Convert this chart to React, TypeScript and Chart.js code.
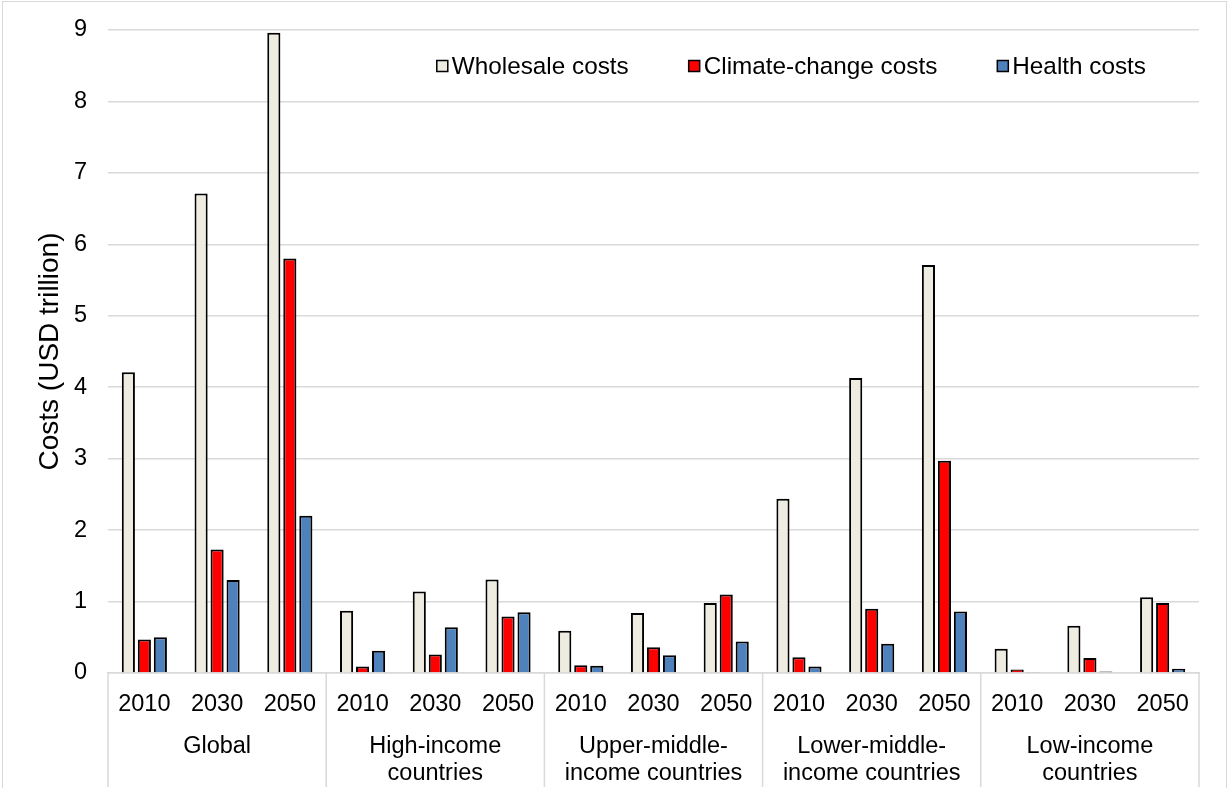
import React, { useEffect, useRef } from "react";
import { Chart, registerables } from "chart.js";

Chart.register(...registerables);

const years = ["2010", "2030", "2050"];
const groupLabels: string[][] = [
  ["Global"],
  ["High-income", "countries"],
  ["Upper-middle-", "income countries"],
  ["Lower-middle-", "income countries"],
  ["Low-income", "countries"],
];
const categoryLabels = groupLabels.flatMap(() => years);

const seriesNames = ["Wholesale costs", "Climate-change costs", "Health costs"];
const wholesale = [4.21, 6.71, 8.96, 0.87, 1.14, 1.31, 0.59, 0.84, 0.98, 2.44, 4.13, 5.71, 0.34, 0.66, 1.06];
const climate = [0.47, 1.73, 5.8, 0.09, 0.26, 0.79, 0.11, 0.36, 1.1, 0.22, 0.9, 2.97, 0.05, 0.21, 0.98];
const health = [0.5, 1.3, 2.2, 0.31, 0.64, 0.85, 0.1, 0.25, 0.44, 0.09, 0.41, 0.86, 0.015, 0.02, 0.06];
const seriesColors = ["#EEECE1", "#FF0000", "#4F81BD"];

const yMin = 0;
const yMax = 9;
const yStep = 1;
const yTitle = "Costs (USD trillion)";

const FONT = '"Liberation Sans", Arial, sans-serif';
const FONT_SIZE = 23.5;
const GRID = "#D9D9D9";

const groupAxisPlugin = {
  id: "groupAxis",
  afterDraw(chart: any) {
    const { ctx, chartArea } = chart;
    const x = chart.scales.x;
    const per = years.length;
    const bottom = chartArea.bottom;
    ctx.save();
    ctx.strokeStyle = GRID;
    ctx.lineWidth = 1.5;
    const bounds: number[] = [];
    for (let g = 0; g < groupLabels.length; g++) {
      if (g === 0) bounds.push(chartArea.left);
      else bounds.push((x.getPixelForValue(g * per - 1) + x.getPixelForValue(g * per)) / 2);
    }
    bounds.push(chartArea.right);
    for (const bx of bounds) {
      ctx.beginPath();
      ctx.moveTo(bx, bottom);
      ctx.lineTo(bx, bottom + 114);
      ctx.stroke();
    }
    ctx.fillStyle = "#000";
    ctx.font = `${FONT_SIZE}px ${FONT}`;
    ctx.textAlign = "center";
    ctx.textBaseline = "middle";
    groupLabels.forEach((lines, g) => {
      const cx = (x.getPixelForValue(g * per) + x.getPixelForValue(g * per + per - 1)) / 2;
      lines.forEach((line, i) => {
        ctx.fillText(line, cx, bottom + 74 + i * 27);
      });
    });
    ctx.restore();
  },
};

const legendPlugin = {
  id: "insideLegend",
  afterDraw(chart: any) {
    const { ctx, chartArea } = chart;
    ctx.save();
    ctx.font = `24.3px ${FONT}`;
    ctx.textBaseline = "middle";
    ctx.textAlign = "left";
    const box = 11;
    const gap = 4;
    const itemGap = 60;
    const widths = seriesNames.map((n) => box + gap + ctx.measureText(n).width);
    const total = widths.reduce((a, b) => a + b, 0) + itemGap * (seriesNames.length - 1);
    let px = chartArea.right - 53 - total;
    const cy = chartArea.top + 36;
    seriesNames.forEach((name, i) => {
      ctx.fillStyle = seriesColors[i];
      ctx.fillRect(px, cy - box / 2, box, box);
      ctx.strokeStyle = "#000";
      ctx.lineWidth = 1.5;
      ctx.strokeRect(px, cy - box / 2, box, box);
      ctx.fillStyle = "#000";
      ctx.fillText(name, px + box + gap, cy + 1);
      px += widths[i] + itemGap;
    });
    ctx.restore();
  },
};

export default function App() {
  const canvasRef = useRef<HTMLCanvasElement | null>(null);

  useEffect(() => {
    document.body.style.margin = "0";
    const canvas = canvasRef.current;
    if (!canvas) return;
    const datasets = [wholesale, climate, health].map((data, i) => ({
      label: seriesNames[i],
      data,
      backgroundColor: seriesColors[i],
      borderColor: "#000",
      borderWidth: 2,
      categoryPercentage: 0.66,
      barPercentage: 0.82,
    }));
    const chart = new Chart(canvas, {
      type: "bar",
      data: { labels: categoryLabels, datasets },
      options: {
        responsive: false,
        animation: false,
        devicePixelRatio: 1,
        layout: { padding: { left: 0, right: 29, top: 30, bottom: 0 } },
        plugins: { legend: { display: false }, tooltip: { enabled: false } },
        scales: {
          x: {
            grid: { display: false, drawTicks: false },
            border: { display: true, color: GRID, width: 1.5 },
            ticks: {
              color: "#000",
              font: { family: FONT, size: FONT_SIZE },
              padding: 17,
              maxRotation: 0,
              autoSkip: false,
            },
            afterFit(scale: any) {
              scale.height = 125;
            },
          },
          y: {
            min: yMin,
            max: yMax,
            ticks: {
              stepSize: yStep,
              color: "#000",
              font: { family: FONT, size: FONT_SIZE },
              padding: 21,
            },
            grid: { color: GRID, lineWidth: 1.5, drawTicks: false },
            border: { display: false },
            title: {
              display: true,
              text: yTitle,
              color: "#000",
              font: { family: FONT, size: 28 },
              padding: { top: 33, bottom: 0 },
            },
            afterFit(scale: any) {
              scale.width = 108;
              scale.paddingTop = 0;
              scale.paddingBottom = 0;
            },
          },
        },
      },
      plugins: [groupAxisPlugin, legendPlugin],
    });
    return () => chart.destroy();
  }, []);

  return (
    <div style={{ position: "fixed", left: 0, top: 0, width: 1228, height: 798, background: "#fff" }}>
      <div
        style={{
          position: "absolute",
          left: 2,
          top: 1,
          width: 1223,
          height: 786,
          borderLeft: `1px solid ${GRID}`,
          borderTop: `1px solid ${GRID}`,
          borderRight: `1px solid ${GRID}`,
          pointerEvents: "none",
        }}
      />
      <canvas ref={canvasRef} width={1228} height={798} style={{ position: "absolute", left: 0, top: 0 }} />
    </div>
  );
}
